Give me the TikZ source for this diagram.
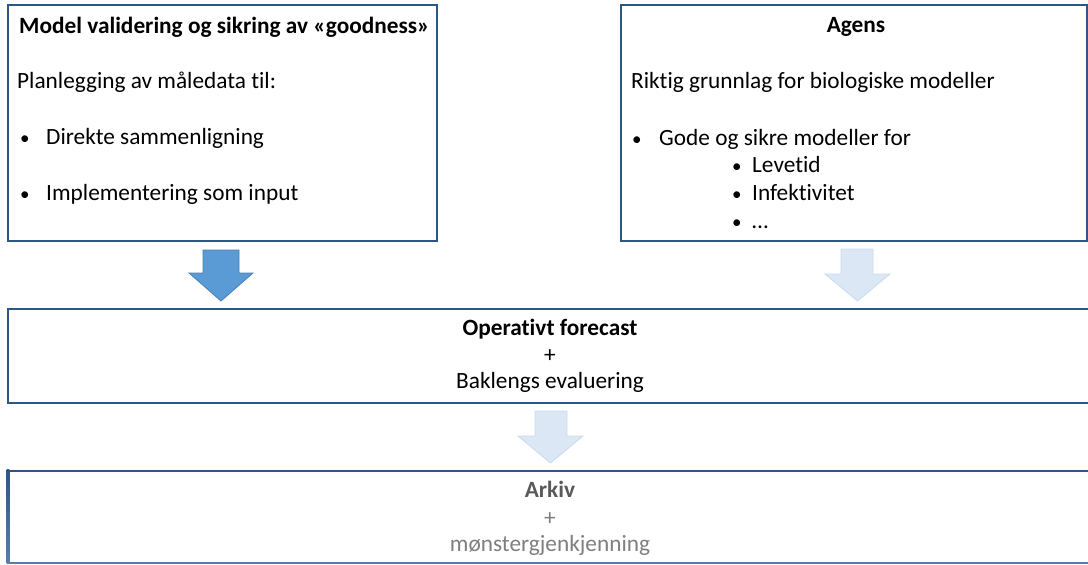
\documentclass[tikz,border=0pt]{standalone}
\usepackage{fontspec}
\setmainfont{Carlito}[Ligatures={NoCommon}]
\definecolor{boxblue}{HTML}{2C5784}
\definecolor{boxlight}{HTML}{5A7DAB}
\definecolor{arrowdark}{HTML}{5B9BD5}
\definecolor{arrowdarkline}{HTML}{4A7FB5}
\definecolor{arrowlight}{HTML}{DBE7F4}
\definecolor{arrowlightline}{HTML}{C9DAEE}
\definecolor{graytxt}{HTML}{595959}
\definecolor{lightgraytxt}{HTML}{7F7F7F}
\tikzset{
  panel/.style={draw=boxblue, line width=2.8pt, fill=white},
  txt/.style={inner sep=0pt, font=\fontsize{23.3}{28}\selectfont},
  btxt/.style={txt, font=\fontsize{23.3}{28}\selectfont\bfseries},
  bul/.style={inner sep=0pt, font=\fontsize{19}{23}\selectfont},
  darrow/.style={fill=arrowdark, draw=arrowdarkline, line width=0.8pt, line join=miter},
  larrow/.style={fill=arrowlight, draw=arrowlightline, line width=0.8pt, line join=miter},
}
\begin{document}
\begin{tikzpicture}[x=1pt,y=-1pt]
\useasboundingbox (0,0) rectangle (1088,565);
% boxes
\draw[panel] (8,5) rectangle (437,241);
\draw[panel] (621,5) rectangle (1087,241);
\draw[panel] (8,309) rectangle (1095,403);
\fill[white] (8,471) rectangle (1095,565);
\shade[top color=boxblue, bottom color=boxlight] (6.6,469.6) rectangle (9.4,563.4);
\draw[draw=boxlight, line width=2.4pt] (8,563) -- (1095,563);
\draw[draw=boxblue, line width=2.8pt] (6.6,471) -- (1095,471);
% box 1 text
\node[btxt, anchor=base west] (t1) at (19,33) {Model validering og sikring av «goodness»};
\node[txt, anchor=base west] (t2) at (17,88.5) {Planlegging av måledata til:};
\node[bul, anchor=base west] (b1) at (20,144.5) {•};
\node[txt, anchor=base west] (t3) at (46,144.5) {Direkte sammenligning};
\node[bul, anchor=base west] (b2) at (20,200) {•};
\node[txt, anchor=base west] (t4) at (46,200) {Implementering som input};
% box 2 text
\node[btxt, anchor=base] (a1) at (856,32) {Agens};
\node[txt, anchor=base west] (a2) at (631,88) {Riktig grunnlag for biologiske modeller};
\node[bul, anchor=base west] (ab1) at (632,145) {•};
\node[txt, anchor=base west] (a3) at (659,145) {Gode og sikre modeller for};
\node[bul, anchor=base west] (ab2) at (732,172) {•};
\node[txt, anchor=base west] (a4) at (752,172) {Levetid};
\node[bul, anchor=base west] (ab3) at (732,200) {•};
\node[txt, anchor=base west] (a5) at (752,200) {Infektivitet};
\node[bul, anchor=base west] (ab4) at (732,228) {•};
\node[txt, anchor=base west] (a6) at (752,228) {…};
% box 3 text
\node[btxt, anchor=base] (o1) at (550,335) {Operativt forecast};
\node[txt, anchor=base] (o2) at (550,362) {+};
\node[txt, anchor=base] (o3) at (550,388.5) {Baklengs evaluering};
% box 4 text
\node[btxt, anchor=base, text=graytxt] (r1) at (550,497) {Arkiv};
\node[txt, anchor=base, text=lightgraytxt] (r2) at (550,525) {+};
\node[txt, anchor=base, text=lightgraytxt] (r3) at (550,551) {mønstergjenkjenning};
% arrows
\draw[darrow] (203,250) -- (239,250) -- (239,273) -- (253,273) -- (221,301) -- (189,273) -- (203,273) -- cycle;
\draw[larrow] (841,249) -- (873,249) -- (873,274) -- (890,274) -- (857.5,301) -- (825,274) -- (841,274) -- cycle;
\draw[larrow] (535,411) -- (567,411) -- (567,436) -- (583,436) -- (550.5,463) -- (518,436) -- (535,436) -- cycle;
\end{tikzpicture}
\end{document}
